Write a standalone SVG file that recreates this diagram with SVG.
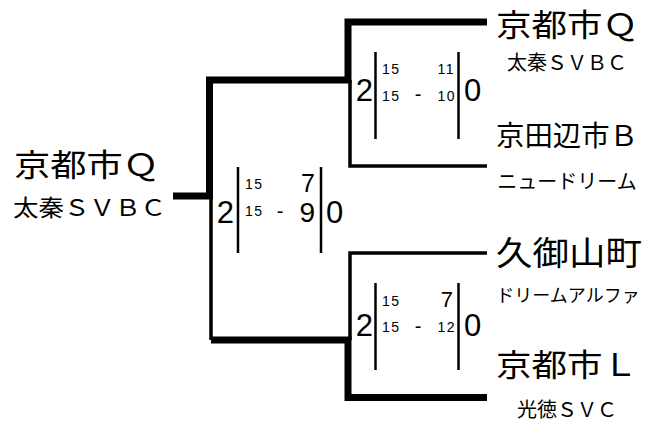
<svg xmlns="http://www.w3.org/2000/svg" width="662" height="425" viewBox="0 0 662 425">
<style>
.thick{fill:none;stroke:#000;stroke-width:7;stroke-linejoin:miter;stroke-linecap:butt}
.thin{fill:none;stroke:#000;stroke-width:3.5;stroke-linecap:butt}
.bar{stroke:#000;stroke-width:2.5}
.lbl{font-family:"Noto Sans CJK JP","Noto Sans",sans-serif;fill:#000}
.big{font-size:31px}
.sub{font-size:20px}
.num{font-family:"Liberation Sans",Arial,sans-serif;fill:#000}
.set{font-size:31px}
.pt{font-size:14px;letter-spacing:1.5px}
.dash{font-size:20px}
</style>
<rect width="662" height="425" fill="#fff"/>
<g id="connectors">
<path class="thick" d="M487 22 H348 V80 H209.5 V196 H173"/>
<path class="thin" d="M350 80 V166 H487"/>
<path class="thin" d="M211 196 V340"/>
<path class="thick" d="M211 340 H348 V397.5 H487"/>
<path class="thin" d="M487 253 H350 V340"/>
</g>
<g id="winner">
<text class="lbl big" x="14" y="176" textLength="145" lengthAdjust="spacingAndGlyphs">京都市Ｑ</text>
<text class="lbl" x="13" y="216" style="font-size:23px" textLength="153" lengthAdjust="spacingAndGlyphs">太秦ＳＶＢＣ</text>
</g>
<g id="team-kyotoQ">
<text class="lbl big" x="496" y="36" textLength="142" lengthAdjust="spacingAndGlyphs">京都市Ｑ</text>
<text class="lbl sub" x="567" y="70" text-anchor="middle">太秦ＳＶＢＣ</text>
</g>
<g id="team-kyotanabeB">
<text class="lbl big" x="496" y="146" style="font-size:28px" textLength="142" lengthAdjust="spacingAndGlyphs">京田辺市Ｂ</text>
<text class="lbl sub" x="567" y="189" text-anchor="middle">ニュードリーム</text>
</g>
<g id="team-kumiyama">
<text class="lbl big" x="496" y="265" style="font-size:33px" textLength="146" lengthAdjust="spacingAndGlyphs">久御山町</text>
<text class="lbl sub" x="568" y="302" text-anchor="middle" style="font-size:18px">ドリームアルファ</text>
</g>
<g id="team-kyotoL">
<text class="lbl big" x="496" y="376" textLength="142" lengthAdjust="spacingAndGlyphs">京都市Ｌ</text>
<text class="lbl sub" x="567" y="417" text-anchor="middle">光徳ＳＶＣ</text>
</g>
<g id="match-semi1">
<line class="bar" x1="375.5" y1="52" x2="375.5" y2="139"/>
<line class="bar" x1="458.5" y1="52" x2="458.5" y2="139"/>
<text class="num set" x="373" y="101" text-anchor="end">2</text>
<text class="num set" x="464" y="101">0</text>
<text class="num pt" x="382" y="74">15</text>
<text class="num pt" x="455" y="74" text-anchor="end">11</text>
<text class="num pt" x="382" y="101">15</text>
<text class="num dash" x="418" y="101" text-anchor="middle">-</text>
<text class="num pt" x="456" y="101" text-anchor="end">10</text>
</g>
<g id="match-final">
<line class="bar" x1="238" y1="167" x2="238" y2="253"/>
<line class="bar" x1="321" y1="167" x2="321" y2="253"/>
<text class="num set" x="234" y="223" text-anchor="end">2</text>
<text class="num set" x="326" y="223">0</text>
<text class="num pt" x="245" y="189">15</text>
<text class="num" x="315" y="192" text-anchor="end" style="font-size:25px">7</text>
<text class="num pt" x="245" y="216">15</text>
<text class="num dash" x="280" y="218" text-anchor="middle">-</text>
<text class="num" x="315" y="222" text-anchor="end" style="font-size:28px">9</text>
</g>
<g id="match-semi2">
<line class="bar" x1="375.5" y1="283" x2="375.5" y2="370"/>
<line class="bar" x1="458.5" y1="283" x2="458.5" y2="370"/>
<text class="num set" x="373" y="336" text-anchor="end">2</text>
<text class="num set" x="464" y="336">0</text>
<text class="num pt" x="382" y="306">15</text>
<text class="num" x="453" y="307" text-anchor="end" style="font-size:22px">7</text>
<text class="num pt" x="382" y="332">15</text>
<text class="num dash" x="418" y="333" text-anchor="middle">-</text>
<text class="num pt" x="456" y="332" text-anchor="end">12</text>
</g>
</svg>
